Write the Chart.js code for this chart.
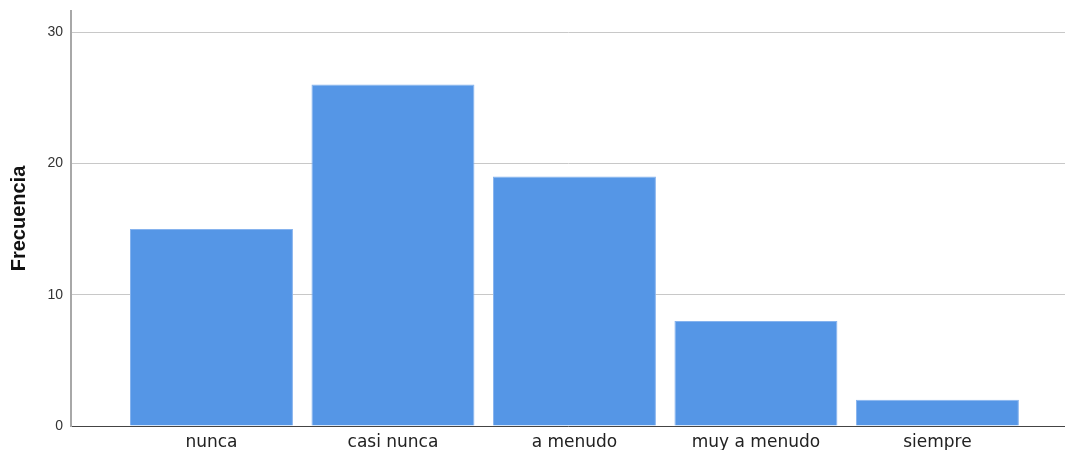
<!DOCTYPE html>
<html>
<head>
<meta charset="utf-8">
<script src="https://cdn.jsdelivr.net/npm/chart.js@4"></script>
<style>
  html, body { margin: 0; padding: 0; background: #fff; }
  #wrap { width: 1065px; height: 450px; position: relative; }
</style>
</head>
<body>
<div id="wrap"><canvas id="freqChart"></canvas></div>
<script>
// Datos del gráfico
const categories = ['nunca', 'casi nunca', 'a menudo', 'muy a menudo', 'siempre'];
const frequencies = [15, 26, 19, 8, 2];
const yTickValues = [0, 10, 20, 30];

// Colores estilo SPSS
const barColor = '#5596e6';
const barEdge = '#86b3ee';

const ctx = document.getElementById('freqChart');

new Chart(ctx, {
    type: 'bar',
    data: {
        datasets: [{
            label: 'Frecuencia',
            data: categories.map((c, i) => ({ x: i + 1, y: frequencies[i] })),
            backgroundColor: barColor,
            borderColor: barEdge,
            borderWidth: 1,
            barPercentage: 0.898,
            categoryPercentage: 1.0
        }]
    },
    options: {
        responsive: true,
        maintainAspectRatio: false,
        animation: false,
        layout: { padding: { top: 11, right: 0, bottom: 0, left: 0 } },
        plugins: {
            legend: { display: false },
            tooltip: { enabled: false }
        },
        scales: {
            x: {
                type: 'linear',
                offset: false,
                min: 0.226,
                max: 5.703,
                grid: { display: false, drawTicks: false, offset: false },
                border: { display: true, color: '#444', width: 1 },
                afterBuildTicks: (scale) => {
                    scale.ticks = categories.map((c, i) => ({ value: i + 1 }));
                },
                afterFit: (scale) => {
                    scale.height = 24;
                    scale.paddingLeft = 0;
                    scale.paddingRight = 0;
                },
                ticks: {
                    autoSkip: false,
                    maxRotation: 0,
                    padding: 6,
                    color: '#222',
                    font: { family: 'DejaVu Sans', size: 17 },
                    callback: (value) => categories[value - 1] ?? ''
                }
            },
            y: {
                min: 0,
                max: 31.6,
                grid: { color: '#c8c8c8', lineWidth: 1, drawTicks: false },
                border: { display: true, color: '#a8a8a8', width: 2 },
                afterBuildTicks: (scale) => {
                    scale.ticks = yTickValues.map(v => ({ value: v }));
                },
                afterFit: (scale) => {
                    scale.width = 71;
                    scale.paddingTop = 0;
                    scale.paddingBottom = 0;
                },
                ticks: {
                    padding: 8,
                    color: '#333',
                    font: { family: 'Liberation Sans', size: 14 }
                },
                title: {
                    display: true,
                    text: 'Frecuencia',
                    color: '#111',
                    padding: { top: 9, bottom: 0 },
                    font: { family: "'Liberation Sans Narrow', 'Arial Narrow', 'Liberation Sans'", size: 20, weight: 'bold', lineHeight: 1 }
                }
            }
        }
    }
});
</script>
</body>
</html>
